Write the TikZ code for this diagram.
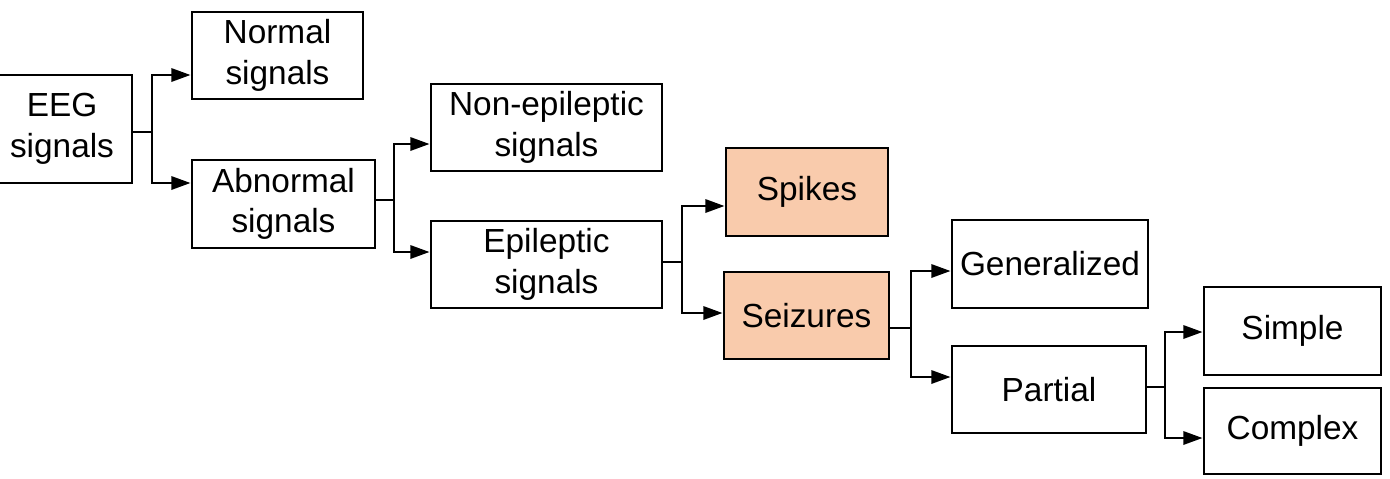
\documentclass[tikz,border=0pt]{standalone}
\usepackage{fontspec}
\setmainfont{Liberation Sans}
\usetikzlibrary{arrows.meta}
\definecolor{peach}{RGB}{249,203,172}
\begin{document}
\begin{tikzpicture}[x=0.02cm,y=-0.02cm,
  box/.style={draw=black,line width=1.6pt,align=center,inner sep=0pt,
    font=\fontsize{19}{23}\selectfont},
  hl/.style={box,fill=peach},
  link/.style={draw=black,line width=1.6pt},
  arr/.style={link,-{Triangle[length=11pt,width=7.5pt]}}]
\useasboundingbox (0,0) rectangle (1390,478);
\clip (0,0) rectangle (1390,478);
\node[box,minimum width=2.8cm,minimum height=2.16cm] (eeg) at (62,129) {EEG\\signals};
\node[box,minimum width=3.42cm,minimum height=1.74cm] (normal) at (277.5,55.5) {Normal\\signals};
\node[box,minimum width=3.66cm,minimum height=1.76cm] (abn) at (283.5,204) {Abnormal\\signals};
\node[box,minimum width=4.62cm,minimum height=1.74cm] (nonepi) at (546.5,127.5) {Non-epileptic\\signals};
\node[box,minimum width=4.62cm,minimum height=1.74cm] (epi) at (546.5,264.5) {Epileptic\\signals};
\node[hl,minimum width=3.24cm,minimum height=1.76cm] (spikes) at (807,192) {Spikes};
\node[hl,minimum width=3.30cm,minimum height=1.74cm] (seiz) at (806.5,315.5) {Seizures};
\node[box,minimum width=3.92cm,minimum height=1.76cm] (gen) at (1050,264) {Generalized};
\node[box,minimum width=3.88cm,minimum height=1.74cm] (part) at (1049,389.5) {Partial};
\node[box,minimum width=3.54cm,minimum height=1.76cm] (simple) at (1292.5,331) {Simple};
\node[box,minimum width=3.54cm,minimum height=1.72cm] (complex) at (1292.5,431) {Complex};
% junctions
\coordinate (j1) at (152,132);
\coordinate (j2) at (394,200);
\coordinate (j3) at (682,262);
\coordinate (j4) at (911,328);
\coordinate (j5) at (1165,387);
\draw[link] (eeg.east |- j1) -- (j1);
\draw[arr] (j1) |- (normal.west |- 0,75);
\draw[arr] (j1) |- (abn.west |- 0,183);
\draw[link] (abn.east |- j2) -- (j2);
\draw[arr] (j2) |- (nonepi.west |- 0,144);
\draw[arr] (j2) |- (epi.west |- 0,252);
\draw[link] (epi.east |- j3) -- (j3);
\draw[arr] (j3) |- (spikes.west |- 0,206);
\draw[arr] (j3) |- (seiz.west |- 0,313);
\draw[link] (seiz.east |- j4) -- (j4);
\draw[arr] (j4) |- (gen.west |- 0,271);
\draw[arr] (j4) |- (part.west |- 0,377);
\draw[link] (part.east |- j5) -- (j5);
\draw[arr] (j5) |- (simple.west |- 0,332);
\draw[arr] (j5) |- (complex.west |- 0,438);
\end{tikzpicture}
\end{document}
